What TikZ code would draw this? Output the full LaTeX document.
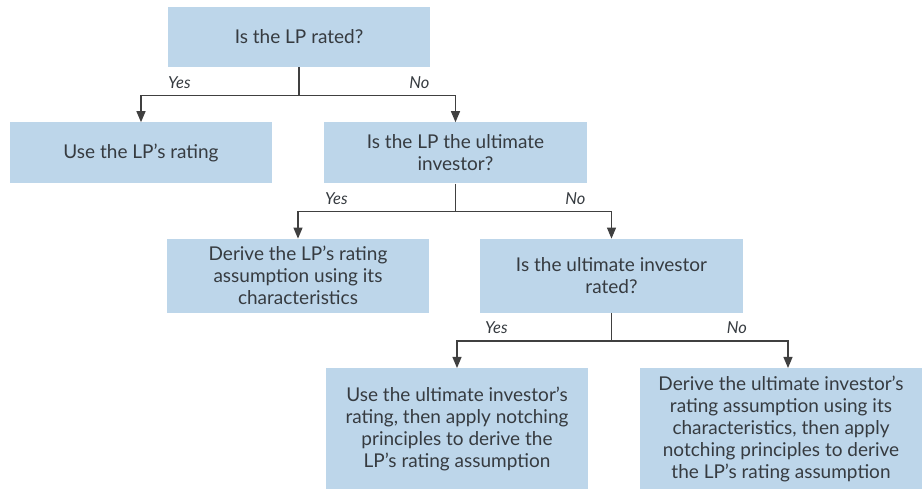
\documentclass[tikz,border=0pt]{standalone}
\usepackage{fontspec}
\setmainfont{Lato}
\usepackage{tikz}
\usetikzlibrary{arrows.meta,positioning,calc}
\usepackage{xcolor}
\definecolor{boxblue}{HTML}{BDD6EA}
\definecolor{ink}{HTML}{363B40}
\definecolor{wire}{HTML}{404040}

\begin{document}
\begin{tikzpicture}
    [x=1pt,y=1pt,
    st/.style={
      rectangle,
      minimum width=#1,
      inner sep = 0pt,
      fill=boxblue, text=ink,
      align=center,
      font=\fontsize{19}{22}\selectfont
      },
    st/.default=262pt,
    lbl/.style={inner sep=0pt, text=ink, font=\fontsize{16.5}{19}\selectfont\itshape},
    ln/.style={draw=wire, line width=1.2pt},
    arr/.style={ln, -{Triangle[length=11pt,width=9pt]}}]

    \useasboundingbox (0,0) rectangle (922,-489);

    \node (q1)[st, minimum height=60pt] at (299,-37) {Is the LP rated?};
    \node (a1)[st, minimum height=61pt, below=55pt of q1, xshift=-158pt] {Use the LP's rating};
    \node (q2)[st=263pt, minimum height=61pt, below=55pt of q1, xshift=156.5pt] {Is the LP the ultimate\\investor?};
    \node (a2)[st, minimum height=74pt, below=55pt of q2, xshift=-157.5pt] {Derive the LP's rating\\assumption using its\\characteristics};
    \node (q3)[st=263pt, minimum height=74pt, below=55pt of q2, xshift=156pt] {Is the ultimate investor\\rated?};
    \node (a3)[st, minimum height=122pt, below=55pt of q3, xshift=-154.5pt] {Use the ultimate investor's\\rating, then apply notching\\principles to derive the\\LP's rating assumption};
    \node (a4)[st=282pt, minimum height=122pt, below=55pt of q3, xshift=169.5pt] {Derive the ultimate investor's\\rating assumption using its\\characteristics, then apply\\notching principles to derive\\the LP's rating assumption};

    % first question
    \draw[ln] (q1.south) -- ++(0,-28) coordinate (j1);
    \draw[arr] (j1) -| (a1.north);
    \draw[arr] (j1) -| (q2.north);
    \node (y1)[lbl, anchor=base west] at ($(a1.north |- j1)+(27,7)$) {Yes};
    \node (n1)[lbl, anchor=base east] at ($(q2.north |- j1)+(-26,7)$) {No};

    % second question
    \draw[ln] (q2.south) -- ++(0,-28) coordinate (j2);
    \draw[arr] (j2) -| (a2.north);
    \draw[arr] (j2) -| (q3.north);
    \node (y2)[lbl, anchor=base west] at ($(a2.north |- j2)+(27,7)$) {Yes};
    \node (n2)[lbl, anchor=base east] at ($(q3.north |- j2)+(-26,7)$) {No};

    % third question
    \draw[ln] (q3.south) -- ++(0,-28) coordinate (j3);
    \draw[arr] (j3) -| (a3.north);
    \draw[arr] (j3) -| ($(a4.north)+(7,0)$);
    \node (y3)[lbl, anchor=base west] at ($(a3.north |- j3)+(28,7)$) {Yes};
    \node (n3)[lbl, anchor=base east] at ($(a4.north |- j3)+(-34,7)$) {No};

  \end{tikzpicture}
\end{document}
